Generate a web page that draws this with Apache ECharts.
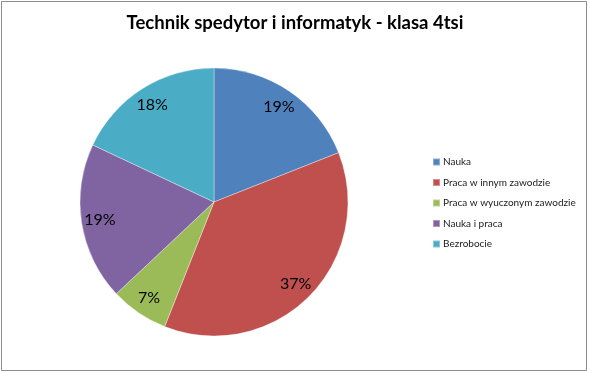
<!DOCTYPE html>
<html>
<head>
<meta charset="utf-8">
<script src="https://cdn.jsdelivr.net/npm/echarts@6/dist/echarts.min.js"></script>
<style>html,body{margin:0;padding:0;background:#fff;}#c{width:590px;height:373px;}</style>
</head>
<body>
<div id="c"></div>
<script>
const categories = ['Nauka', 'Praca w innym zawodzie', 'Praca w wyuczonym zawodzie', 'Nauka i praca', 'Bezrobocie'];
const values = [19, 37, 7, 19, 18];
const colors = ['#4F81BD', '#C0504D', '#9BBB59', '#8064A2', '#4BACC6'];
const titleText = 'Technik spedytor i informatyk - klasa 4tsi';

const data = categories.map((n, i) => ({ name: n, value: values[i], itemStyle: { color: colors[i] } }));
const chart = echarts.init(document.getElementById('c'), null, { renderer: 'canvas' });
const center = [214, 202];
const R = 134;
chart.setOption({
  animation: false,
  backgroundColor: '#fff',
  graphic: [{
    type: 'rect', shape: { x: 1.5, y: 1.5, width: 585, height: 369 },
    style: { fill: 'none', stroke: '#8c8c8c', lineWidth: 1 }, silent: true, z: -1
  }],
  title: {
    text: titleText, left: 'center', top: 9,
    textStyle: { fontFamily: 'Lato', fontWeight: 'bold', fontSize: 18.5, color: '#000' }
  },
  legend: {
    orient: 'vertical', left: 432, top: 156, padding: 0,
    icon: 'rect', itemWidth: 7, itemHeight: 7, itemGap: 8.5,
    data: categories,
    textStyle: { fontFamily: 'Lato', fontSize: 10, lineHeight: 12, color: '#1a1a1a', padding: [0, 0, 0, -2] }
  },
  series: [{
    type: 'pie', center: center, radius: [0, R], startAngle: 90, clockwise: true,
    data: data, label: { show: false }, labelLine: { show: false },
    itemStyle: { borderColor: 'rgba(255,255,255,0.35)', borderWidth: 1 },
    emphasis: { disabled: true }
  }, {
    type: 'pie', center: center, radius: [R * 0.68, R], startAngle: 90, clockwise: true,
    data: data.map(d => ({ name: d.name, value: d.value })),
    itemStyle: { color: 'rgba(0,0,0,0)' }, silent: true,
    legendHoverLink: false,
    label: {
      show: true, position: 'inside', formatter: p => Math.round(p.percent) + '%',
      fontFamily: 'Lato', fontSize: 16, color: '#000'
    },
    labelLine: { show: false }, emphasis: { disabled: true }
  }]
});
</script>
</body>
</html>
